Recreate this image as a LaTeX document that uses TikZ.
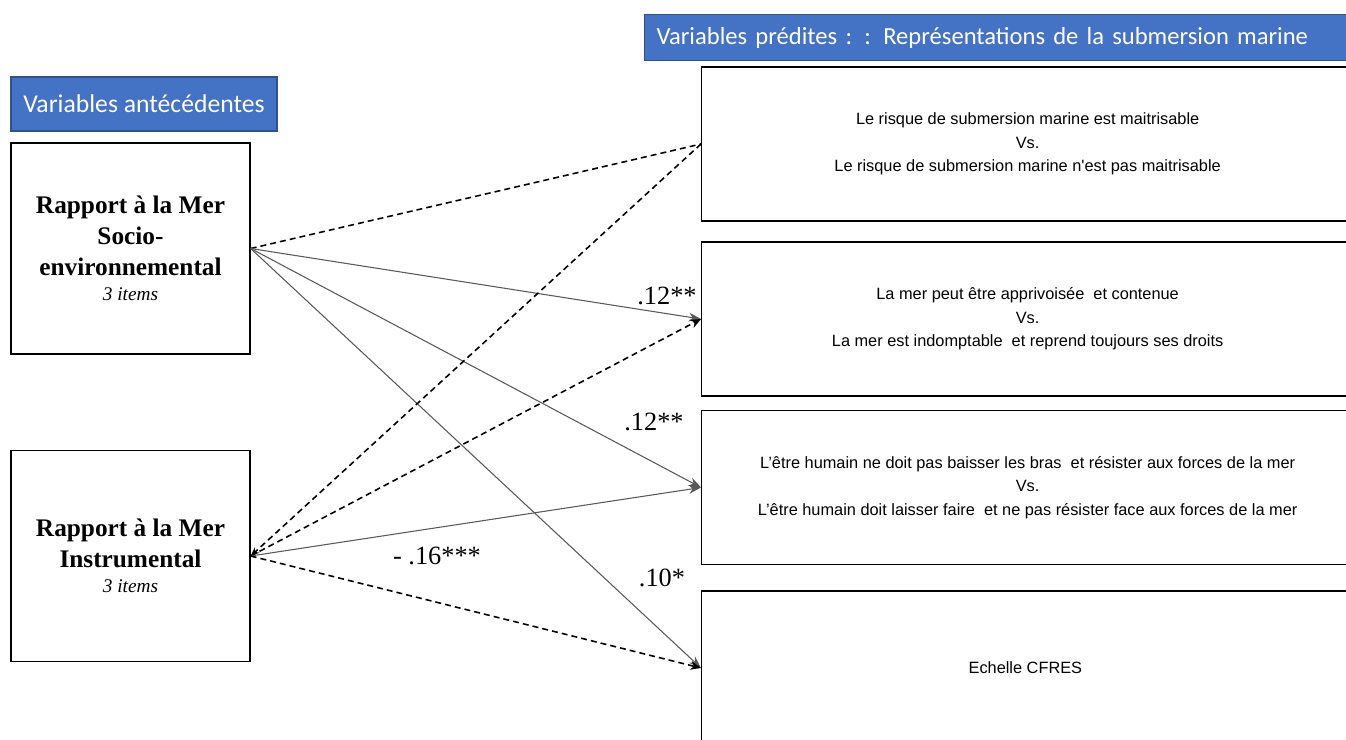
\documentclass[tikz,border=0pt]{standalone}
\usepackage{fontspec}
\setmainfont{Liberation Serif}
\newfontfamily\arialfont{Liberation Sans}
\newfontfamily\calibrifont{Carlito}
\usetikzlibrary{arrows.meta}
\definecolor{headblue}{HTML}{4472C4}
\definecolor{headedge}{HTML}{2F528F}
\tikzset{
  header/.style={fill=headblue, draw=headedge, line width=0.6pt, text=white,
    font=\calibrifont\fontsize{14.6}{16}\selectfont, minimum height=1.08cm},
  antebox/.style={draw, line width=0.8pt, minimum width=4.78cm, minimum height=4.22cm,
    align=center, font=\bfseries\fontsize{14.4}{17.6}\selectfont},
  predbox/.style={draw, line width=0.8pt, minimum width=13.04cm, minimum height=3.08cm,
    align=center, font=\arialfont\fontsize{9.3}{13.4}\selectfont},
  effect/.style={draw=black!65, line width=0.6pt, -{Stealth[length=7pt,width=5pt]}},
  nonsig/.style={black, line width=0.9pt, dash pattern=on 3.4pt off 2.3pt},
  coef/.style={font=\fontsize{15}{18}\selectfont}
}

\begin{document}
\begin{tikzpicture}[x=0.02cm,y=-0.02cm]
    \path[use as bounding box, clip] (0,0) rectangle (1346,740);
    \fill[white] (0,0) rectangle (1346,740);

    % headers
    \node[header, minimum width=5.32cm] (antehead) at (144,104) {Variables antécédentes};
    \node[header, anchor=west, minimum height=0.92cm, text width=13.84cm, inner xsep=0.24cm,
      align=left, font=\calibrifont\fontsize{14}{16}\selectfont] (predhead) at (644,37.5)
      {Variables prédites : : Représentations de la submersion marine};

    % antecedents
    \node[antebox] (socio) at (130.5,248.5) {Rapport à la Mer\\Socio-\\environnemental\\[-3pt]
      {\normalfont\itshape\fontsize{11}{13}\selectfont 3 items}};
    \node[antebox] (instr) at (130.5,556) {Rapport à la Mer\\Instrumental\\[-3pt]
      {\normalfont\itshape\fontsize{11}{13}\selectfont 3 items}};

    % predicted representations
    \foreach \name/\y/\txt in {
        risk/144/{Le risque de submersion marine est maitrisable\\Vs.\\Le risque de submersion marine n'est pas maitrisable},
        tame/319/{La mer peut être apprivoisée\ \ et contenue\\Vs.\\La mer est indomptable\ \ et reprend toujours ses droits},
        resist/487.5/{L’être humain ne doit pas baisser les bras\ \ et résister aux forces de la mer\\Vs.\\L’être humain doit laisser faire\ \ et ne pas résister face aux forces de la mer},
        cfres/668/{Echelle CFRES}
    } {
        \node[predbox, anchor=west] (\name) at (701,\y) {\txt};
    }

    % paths
    \draw[nonsig] (socio.east) -- (risk.west);
    \draw[effect] (socio.east) -- (tame.west);
    \draw[effect] (socio.east) -- (resist.west);
    \draw[effect] (socio.east) -- (cfres.west);
    \draw[nonsig, -{Stealth[length=5pt,width=4pt]}] (risk.west) -- (instr.east);
    \draw[nonsig, -{Stealth[length=6pt,width=5pt]}] (instr.east) -- (tame.west);
    \draw[effect] (instr.east) -- (resist.west);
    \draw[nonsig, -{Stealth[length=6pt,width=5pt]}] (instr.east) -- (cfres.west);

    % coefficients
    \node[coef] (c1) at (667,296) {.12**};
    \node[coef] (c2) at (654,422) {.12**};
    \node[coef] (c3) at (437,556) {- .16***};
    \node[coef] (c4) at (662,578) {.10*};
\end{tikzpicture}
\end{document}
